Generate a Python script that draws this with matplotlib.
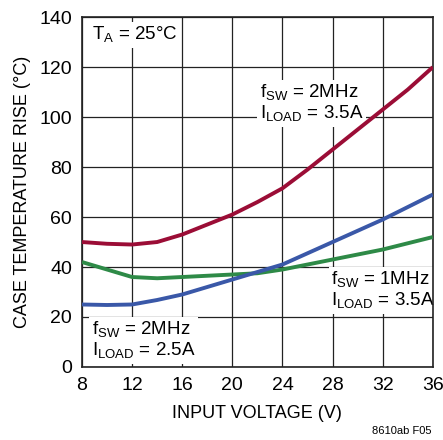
import matplotlib
matplotlib.use('Agg')
import matplotlib.pyplot as plt

plt.rcParams['font.family'] = ['Liberation Sans', 'DejaVu Sans']
plt.rcParams['mathtext.fontset'] = 'custom'
plt.rcParams['mathtext.rm'] = 'Liberation Sans'

# input voltage (V)
vin = [8, 10, 12, 14, 16, 18, 20, 22, 24, 26, 28, 30, 32, 34, 36]
# case temperature rise (C)
red_2mhz_35a = [50, 49.3, 49, 50, 53, 57, 61, 66, 71.5, 79, 87, 95, 103, 111, 120]
blue_2mhz_25a = [25, 24.8, 25, 26.8, 29, 32, 35, 38, 41, 45.5, 50, 54.5, 59, 64, 69]
green_1mhz_35a = [42, 39, 36, 35.5, 36, 36.5, 37, 37.5, 39, 41, 43, 45, 47, 49.5, 52]

xticks = [8, 12, 16, 20, 24, 28, 32, 36]
yticks = [0, 20, 40, 60, 80, 100, 120, 140]

fig = plt.figure(figsize=(4.43, 4.40), dpi=100)
ax = fig.add_axes([0.185, 0.166, 0.792, 0.795])

ax.plot(vin, red_2mhz_35a, color='#9b0d36', lw=2.8, solid_capstyle='butt', zorder=3)
ax.plot(vin, green_1mhz_35a, color='#2e8a47', lw=2.8, solid_capstyle='butt', zorder=3)
ax.plot(vin, blue_2mhz_25a, color='#3a58a8', lw=2.8, solid_capstyle='butt', zorder=3)

ax.set_xlim(8, 36)
ax.set_ylim(0, 140)
ax.set_xticks(xticks)
ax.set_yticks(yticks)
ax.tick_params(labelsize=14, length=0, pad=7)
ax.grid(True, color='#222222', lw=0.9)
for s in ax.spines.values():
    s.set_color('#222222')
    s.set_linewidth(1.2)

ax.set_xlabel('INPUT VOLTAGE (V)', fontsize=13, labelpad=8)
ax.set_ylabel('CASE TEMPERATURE RISE (°C)', fontsize=13, labelpad=6)

# white boxes sit above the grid but under the curves
box = dict(facecolor='white', edgecolor='none', pad=2)
ax.text(8.8, 133, r'T$_\mathregular{A}$ = 25°C', fontsize=13.5, va='center', ha='left', bbox=box, zorder=2.5)
ax.text(22.2, 105.5, 'f$_\\mathregular{SW}$ = 2MHz\nI$_\\mathregular{LOAD}$ = 3.5A',
        fontsize=13.5, va='center', ha='left', bbox=box, linespacing=1.05, zorder=2.5)
ax.text(27.9, 30.5, 'f$_\\mathregular{SW}$ = 1MHz\nI$_\\mathregular{LOAD}$ = 3.5A',
        fontsize=13.5, va='center', ha='left', bbox=box, linespacing=1.05, zorder=2.5)
ax.text(8.8, 10.5, 'f$_\\mathregular{SW}$ = 2MHz\nI$_\\mathregular{LOAD}$ = 2.5A',
        fontsize=13.5, va='center', ha='left', bbox=box, linespacing=1.05, zorder=2.5)

fig.text(0.975, 0.01, '8610ab F05', fontsize=8, ha='right', va='bottom')

fig.savefig('out.png', dpi=100)
